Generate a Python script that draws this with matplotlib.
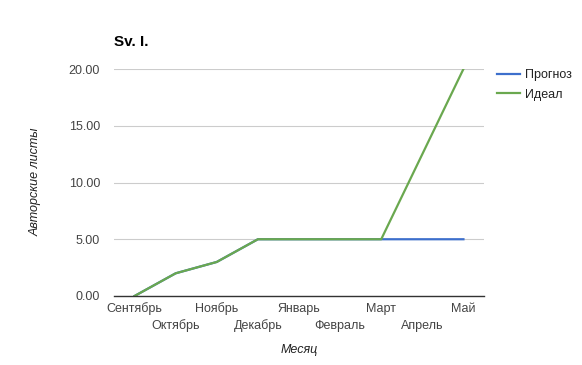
import matplotlib
matplotlib.use("Agg")
import matplotlib.pyplot as plt

plt.rcParams['font.family'] = ['Liberation Sans', 'DejaVu Sans']

months = ["Сентябрь", "Октябрь", "Ноябрь", "Декабрь", "Январь",
          "Февраль", "Март", "Апрель", "Май"]
forecast = [0, 2, 3, 5, 5, 5, 5, 5, 5]
ideal = [0, 2, 3, 5, 5, 5, 5, 12.5, 20]
yticks = [0, 5, 10, 15, 20]

fig = plt.figure(figsize=(5.82, 3.65), dpi=100)
ax = fig.add_axes([114/582, 69/365, 370/582, 227/365])

x = list(range(len(months)))
ax.plot(x, forecast, color='#3d6fcc', lw=1.6, label='Прогноз')
ax.plot(x, ideal, color='#6aa84f', lw=1.6, label='Идеал')

ax.set_xlim(-0.5, len(months) - 0.5)
ax.set_ylim(0, 20)
ax.set_yticks(yticks)
ax.set_yticklabels(["%.2f" % v for v in yticks])
ax.set_xticks(x)
ax.set_xticklabels([])
ax.tick_params(axis='both', length=0, labelsize=9, labelcolor='#444444')
ax.tick_params(axis='y', pad=10)

# staggered month labels, two rows
trans = ax.get_xaxis_transform()
for i, m in enumerate(months):
    yy = -13/227 if i % 2 == 0 else -30/227
    ax.text(i, yy, m, transform=trans, ha='center', va='center',
            fontsize=9, color='#444444')

ax.grid(axis='y', color='#cccccc', lw=0.8)
ax.set_axisbelow(True)
for s in ['top', 'right', 'left']:
    ax.spines[s].set_visible(False)
ax.spines['bottom'].set_color('#333333')
ax.spines['bottom'].set_linewidth(1.0)

fig.text(299/582, 1 - 350/365, 'Месяц', fontsize=9, style='italic', color='#222222',
         ha='center', va='center')
fig.text(36/582, 1 - 182/365, 'Авторские листы', fontsize=9, style='italic', color='#222222',
         ha='center', va='center', rotation=90)

fig.text(114/582, 1 - 42/365, 'Sv. I.', fontsize=11, fontweight='bold', color='#000000', va='center')

fig.legend(loc='upper left', bbox_to_anchor=(486/582, 1 - 58/365), frameon=False,
           fontsize=9, handlelength=1.8, handletextpad=0.4, labelspacing=0.6,
           labelcolor='#222222')

fig.savefig('out.png', dpi=100)
